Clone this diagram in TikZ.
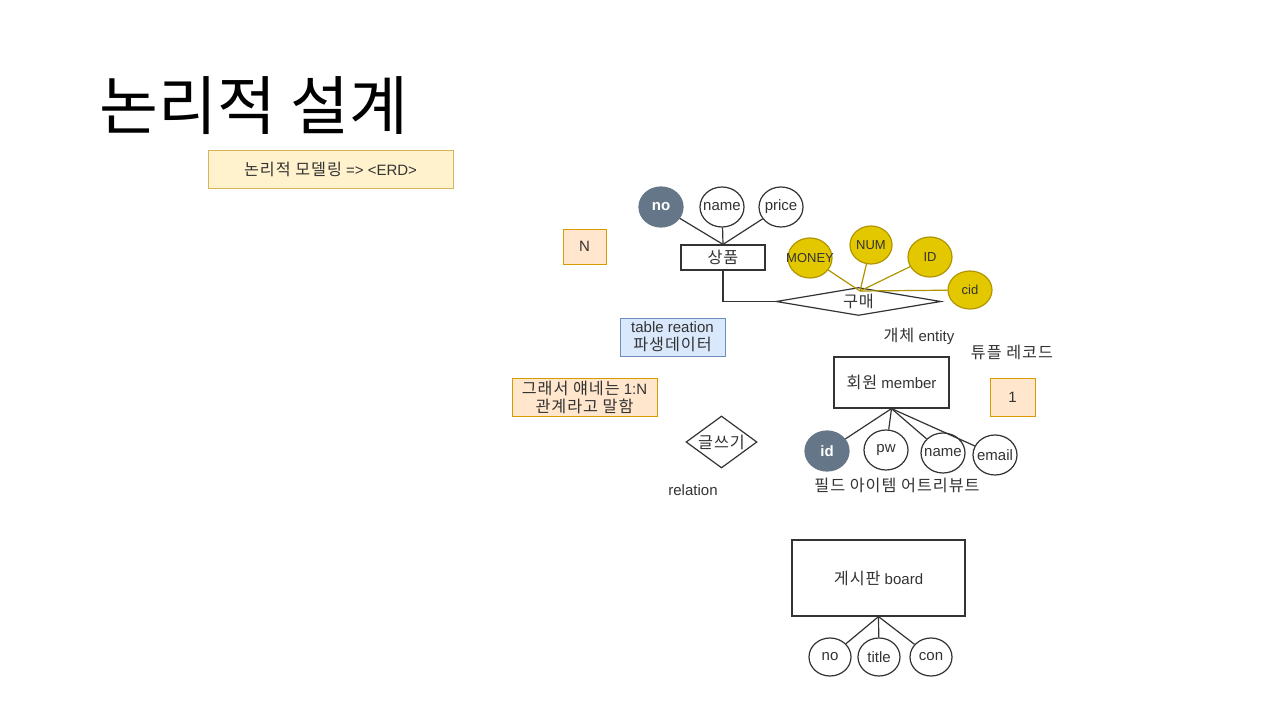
\documentclass[tikz,border=0pt]{standalone}
\usepackage{fontspec}
\setmainfont{Liberation Sans}
\newfontfamily\kr[LetterSpace=6,Scale=1.08]{Noto Sans CJK KR}
\newfontfamily\krtitle{Noto Sans CJK KR}
\usetikzlibrary{shapes.geometric,positioning}
\definecolor{slate}{HTML}{647687}
\definecolor{gold}{HTML}{E3C800}
\definecolor{golddark}{HTML}{B09500}
\definecolor{peach}{HTML}{FFE6CC}
\definecolor{peachline}{HTML}{D79B00}
\definecolor{cream}{HTML}{FFF2CC}
\definecolor{creamline}{HTML}{D6B656}
\definecolor{sky}{HTML}{DAE8FC}
\definecolor{skyline}{HTML}{6C8EBF}
\definecolor{ink}{HTML}{333333}
\newcommand{\ovr}[1]{\makebox[0pt]{#1}}

\begin{document}
\begin{tikzpicture}[x=1pt, y=-1pt, font=\fontsize{15}{18}\selectfont, text=ink,
  ent/.style={draw=ink, line width=1.2pt, inner sep=0pt},
  attr/.style={draw=ink, ellipse, line width=1.2pt, minimum width=44pt, minimum height=40pt, inner sep=0pt},
  keyattr/.style={attr, draw=slate, fill=slate, text=white, font=\fontsize{15}{18}\selectfont\bfseries},
  yattr/.style={attr, draw=golddark, fill=gold, font=\fontsize{13}{15}\selectfont},
  rel/.style={draw=ink, diamond, line width=1.2pt, inner sep=0pt},
  note/.style={draw, line width=1pt, inner sep=0pt, align=center},
  lnk/.style={draw=ink, line width=1.2pt},
  ylnk/.style={draw=golddark, line width=1.2pt}]
\useasboundingbox[fill=white] (0,0) rectangle (1280,720);

% title
\node[anchor=west, text=black, font=\krtitle\fontsize{64}{72}\selectfont] (title) at (96,106) {논리적 설계};
\node[note, fill=cream, draw=creamline, minimum width=245pt, minimum height=38pt] (erd) at (330.5,169) {{\kr 논리적 모델링} => <ERD>};

% product
\node[ent, minimum width=84pt, minimum height=25pt] (sangpum) at (723,257.5) {\kr 상품};
\node[keyattr] (pno) at (661,207) {no};
\node[attr] (pname) at (722,207) {\ovr{name}};
\node[attr] (pprice) at (781,207) {\ovr{price}};
\foreach \a in {pno,pname,pprice}{\draw[lnk] (\a) -- (sangpum.north);}

% purchase
\node[rel, aspect=6, minimum width=165pt, minimum height=28pt] (gumae) at (858.5,301.5) {\kr 구매};
\draw[lnk] (sangpum.south) |- (gumae.west);
\coordinate (hub) at (860,291);
\node[yattr] (money) at (810,258) {\ovr{MONEY}};
\node[yattr, minimum width=42pt, minimum height=38pt] (num) at (871,245) {NUM};
\node[yattr] (gid) at (930,257) {ID};
\node[yattr, minimum height=38pt] (cid) at (970,290) {cid};
\foreach \a in {money,num,gid,cid}{\draw[ylnk] (hub) -- (\a);}

% notes
\node[note, fill=peach, draw=peachline, minimum width=43pt, minimum height=35pt] (many) at (584.5,246.5) {N};
\node[note, fill=sky, draw=skyline, minimum width=105pt, minimum height=38pt] (derived) at (672.5,337) {table reation\\\kr 파생데이터};
\node[note, fill=peach, draw=peachline, minimum width=145pt, minimum height=38pt] (onen) at (584.5,397) {{\kr 그래서 얘네는} 1:N\\\kr 관계라고 말함};
\node[note, fill=peach, draw=peachline, minimum width=45pt, minimum height=38pt] (one) at (1012.5,397) {1};

% member
\node (entlbl) at (919,336) {{\kr 개체} entity};
\node (tuple) at (1012,352) {\kr 튜플 레코드};
\node[ent, minimum width=115pt, minimum height=51pt] (member) at (891.5,382.5) {{\kr 회원} member};
\node[keyattr] (mid) at (827,451) {id};
\node[attr] (mpw) at (886,450) {pw};
\node[attr] (mname) at (943,453) {\ovr{name}};
\node[attr] (memail) at (995,455) {\ovr{email}};
\foreach \a in {mid,mpw,mname,memail}{\draw[lnk] (member.south) -- (\a);}
\node (field) at (897,485) {\kr 필드 아이템 어트리뷰트};

% write
\node[rel, aspect=1.4, minimum width=71pt, minimum height=52pt] (write) at (721.5,442) {\kr 글쓰기};
\node (rellbl) at (693,490) {relation};

% board
\node[ent, minimum width=173pt, minimum height=76pt] (board) at (878.5,578) {{\kr 게시판} board};
\node[attr, minimum width=42pt, minimum height=38pt] (bno) at (830,657) {no};
\node[attr, minimum width=42pt, minimum height=38pt] (btitle) at (879,657) {\ovr{title}};
\node[attr, minimum width=42pt, minimum height=38pt] (bcon) at (931,657) {con};
\foreach \a in {bno,btitle,bcon}{\draw[lnk] (board.south) -- (\a);}
\end{tikzpicture}
\end{document}
